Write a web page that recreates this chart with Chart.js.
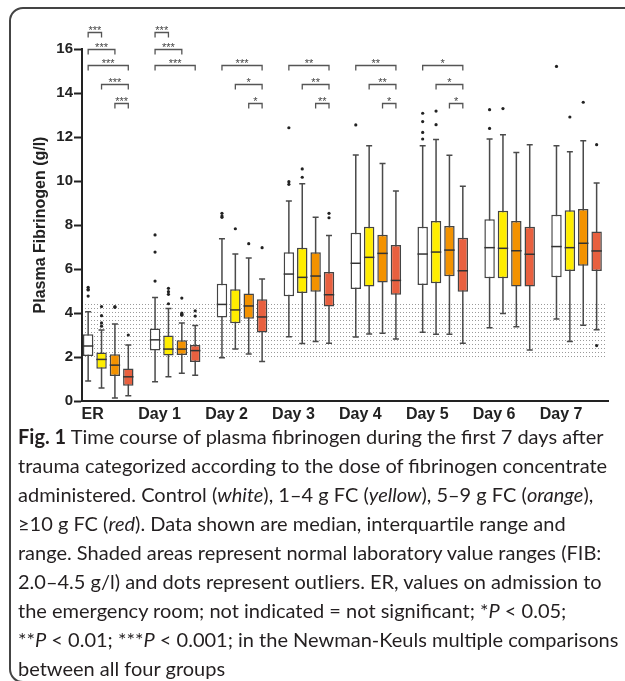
<!DOCTYPE html>
<html>
<head>
<meta charset="utf-8">
<script src="https://cdn.jsdelivr.net/npm/chart.js@4.4.1/dist/chart.umd.min.js"></script>
<style>
  html, body { margin: 0; padding: 0; background: #fff; overflow: hidden; }
  body { width: 625px; height: 681px; position: relative; }
  .frame { position: absolute; left: 9px; top: 7px; width: 660px; height: 676px; box-sizing: border-box;
           border: 2px solid #444; border-radius: 14px; }
  .plot { position: absolute; left: 0; top: 0; width: 625px; height: 430px; }
  .caption { position: absolute; left: 18px; top: 422px; font-family: Lato, "Noto Sans", sans-serif;
             font-size: 20px; line-height: 29px; color: #231f20; white-space: nowrap; }
  .caption div { display: block; }
</style>
</head>
<body>
<div class="frame"></div>
<div class="plot"><canvas id="chart"></canvas></div>
<div class="caption">
  <div><b>Fig. 1</b> Time course of plasma fibrinogen during the first 7 days after</div>
  <div>trauma categorized according to the dose of fibrinogen concentrate</div>
  <div>administered. Control (<i>white</i>), 1–4 g FC (<i>yellow</i>), 5–9 g FC (<i>orange</i>),</div>
  <div>≥10 g FC (<i>red</i>). Data shown are median, interquartile range and</div>
  <div>range. Shaded areas represent normal laboratory value ranges (FIB:</div>
  <div>2.0–4.5 g/l) and dots represent outliers. ER, values on admission to</div>
  <div>the emergency room; not indicated = not significant; *<i>P</i> &lt; 0.05;</div>
  <div>**<i>P</i> &lt; 0.01; ***<i>P</i> &lt; 0.001; in the Newman-Keuls multiple comparisons</div>
  <div>between all four groups</div>
</div>
<script>
const days = ["ER", "Day 1", "Day 2", "Day 3", "Day 4", "Day 5", "Day 6", "Day 7"];

// [min, q1, median, q3, max] for each day
const control = [
  [0.91, 2.05, 2.50, 3.03, 4.06],
  [0.88, 2.30, 2.78, 3.30, 4.71],
  [1.97, 3.80, 4.39, 5.33, 7.38],
  [2.92, 4.76, 5.77, 6.76, 9.09],
  [2.91, 5.09, 6.26, 7.65, 11.18],
  [3.12, 5.27, 6.68, 7.92, 11.60],
  [3.33, 5.58, 6.97, 8.26, 11.91],
  [3.73, 5.62, 7.02, 8.47, 11.60]
];
const fc1to4 = [
  [0.59, 1.47, 1.89, 2.20, 3.23],
  [1.10, 2.07, 2.36, 2.98, 4.20],
  [2.36, 3.53, 4.14, 5.08, 6.68],
  [2.61, 4.91, 5.62, 6.97, 9.88],
  [3.05, 5.21, 6.53, 7.92, 11.60],
  [3.03, 5.35, 6.77, 8.18, 11.89],
  [3.98, 5.58, 6.94, 8.65, 12.10],
  [2.71, 5.91, 6.97, 8.67, 11.33]
];
const fc5to9 = [
  [0.14, 1.14, 1.63, 2.13, 3.50],
  [1.26, 2.09, 2.36, 2.76, 3.55],
  [2.14, 3.74, 4.32, 4.89, 6.50],
  [2.70, 4.97, 5.68, 6.76, 8.35],
  [3.08, 5.39, 6.71, 7.56, 10.79],
  [3.03, 5.67, 6.86, 7.95, 11.17],
  [3.38, 5.20, 6.83, 8.18, 11.30],
  [3.44, 6.15, 7.17, 8.73, 11.83]
];
const fc10 = [
  [0.24, 0.69, 1.10, 1.48, 2.55],
  [1.17, 1.77, 2.29, 2.54, 3.43],
  [1.80, 3.11, 3.82, 4.62, 5.55],
  [2.62, 4.29, 4.83, 5.86, 7.52],
  [2.82, 4.83, 5.48, 7.09, 9.55],
  [2.62, 4.97, 5.92, 7.42, 9.76],
  [2.32, 5.20, 6.67, 7.92, 11.65],
  [3.24, 5.91, 6.82, 7.70, 9.91]
];

// outliers as [day index, value]
const controlOut = [[0, 5.17], [0, 5.07], [0, 5.05], [0, 4.77], [1, 7.55], [1, 6.77], [1, 5.45],
  [2, 8.35], [2, 8.41], [2, 8.53], [3, 12.42], [3, 9.85], [3, 9.97], [4, 12.55],
  [5, 13.08], [5, 12.70], [5, 12.21], [5, 11.91], [6, 13.24], [6, 12.39], [7, 15.21]];
const fc1to4Out = [[0, 4.29], [0, 3.88], [0, 3.55], [0, 3.40], [1, 5.12], [1, 4.97], [1, 4.85], [1, 4.42],
  [2, 7.83], [3, 10.55], [3, 10.17], [5, 13.18], [5, 12.56], [6, 13.29], [7, 12.91]];
const fc5to9Out = [[0, 4.26], [0, 4.29], [1, 4.68], [1, 4.00], [1, 3.95], [1, 3.90], [1, 3.93],
  [2, 7.15], [7, 13.58]];
const fc10Out = [[0, 3.00], [1, 4.10], [1, 3.86], [2, 6.97], [3, 8.53], [3, 8.33], [7, 11.65], [7, 2.52]];

const groupNames = ["Control", "1–4 g FC", "5–9 g FC", "≥10 g FC"];
const groupColors = ["#ffffff", "#ffed00", "#f39200", "#e8603f"];
const normalRange = [2.0, 4.5];

// significance brackets: [day, from group, to group, level, label]
const bracketLevels = [16.79, 16.0, 15.26, 14.39, 13.55];
const brackets = [
  [0, 0, 1, 0, "***"], [0, 0, 2, 1, "***"], [0, 0, 3, 2, "***"], [0, 1, 3, 3, "***"], [0, 2, 3, 4, "***"],
  [1, 0, 1, 0, "***"], [1, 0, 2, 1, "***"], [1, 0, 3, 2, "***"],
  [2, 0, 3, 2, "***"], [2, 1, 3, 3, "*"], [2, 2, 3, 4, "*"],
  [3, 0, 3, 2, "**"], [3, 1, 3, 3, "**"], [3, 2, 3, 4, "**"],
  [4, 0, 3, 2, "**"], [4, 1, 3, 3, "**"], [4, 2, 3, 4, "*"],
  [5, 0, 3, 2, "*"], [5, 1, 3, 3, "*"], [5, 2, 3, 4, "*"]
];

const boxes = [control, fc1to4, fc5to9, fc10];
const outliers = [controlOut, fc1to4Out, fc5to9Out, fc10Out];
const catPct = 0.8;

function dotPattern(ctx) {
  const c = document.createElement("canvas");
  c.width = 3; c.height = 4;
  const p = c.getContext("2d");
  p.fillStyle = "#9a9a9a";
  p.fillRect(1, 0, 1, 1);
  return ctx.createPattern(c, "repeat");
}

const boxPlugin = {
  id: "boxplot",
  beforeDatasetsDraw(chart) {
    const { ctx, chartArea, scales: { y } } = chart;
    ctx.save();
    // normal range shading
    const top = y.getPixelForValue(normalRange[1]);
    const bottom = y.getPixelForValue(normalRange[0]);
    ctx.fillStyle = dotPattern(ctx);
    ctx.fillRect(chartArea.left + 1, Math.round(top), chartArea.right - chartArea.left - 4, bottom - top);
    // whiskers
    ctx.strokeStyle = "#4a4a4a";
    ctx.lineWidth = 1.5;
    boxes.forEach((g, gi) => {
      const meta = chart.getDatasetMeta(gi);
      g.forEach((b, i) => {
        const cx = meta.data[i].x;
        ctx.beginPath();
        ctx.moveTo(cx, y.getPixelForValue(b[0]));
        ctx.lineTo(cx, y.getPixelForValue(b[4]));
        [b[0], b[4]].forEach(v => {
          ctx.moveTo(cx - 3, y.getPixelForValue(v));
          ctx.lineTo(cx + 3, y.getPixelForValue(v));
        });
        ctx.stroke();
      });
    });
    ctx.restore();
  },
  afterDatasetsDraw(chart) {
    const { ctx, scales: { y } } = chart;
    ctx.save();
    // medians
    ctx.strokeStyle = "#333";
    ctx.lineWidth = 1.5;
    boxes.forEach((g, gi) => {
      const meta = chart.getDatasetMeta(gi);
      g.forEach((b, i) => {
        const bar = meta.data[i];
        const py = y.getPixelForValue(b[2]);
        ctx.beginPath();
        ctx.moveTo(bar.x - bar.width / 2, py);
        ctx.lineTo(bar.x + bar.width / 2, py);
        ctx.stroke();
      });
    });
    // significance brackets
    ctx.strokeStyle = "#555";
    ctx.lineWidth = 1.3;
    ctx.fillStyle = "#444";
    ctx.font = "11px 'Liberation Sans', Arial, sans-serif";
    ctx.textAlign = "center";
    ctx.textBaseline = "alphabetic";
    brackets.forEach(([d, a, b, lvl, label]) => {
      const x1 = chart.getDatasetMeta(a).data[d].x;
      const x2 = chart.getDatasetMeta(b).data[d].x;
      const py = Math.round(y.getPixelForValue(bracketLevels[lvl])) + 0.5;
      ctx.beginPath();
      ctx.moveTo(x1, py + 5);
      ctx.lineTo(x1, py);
      ctx.lineTo(x2, py);
      ctx.lineTo(x2, py + 5);
      ctx.stroke();
      ctx.fillText(label, (x1 + x2) / 2, py + 1);
    });
    ctx.restore();
  }
};

const datasets = boxes.map((g, gi) => ({
  type: "bar",
  label: groupNames[gi],
  data: g.map((b, i) => ({ x: i, y: [b[1], b[3]] })),
  backgroundColor: groupColors[gi],
  borderColor: "#444",
  borderWidth: 1.5,
  borderSkipped: false,
  barPercentage: 0.78,
  categoryPercentage: catPct
})).concat(outliers.map((o, gi) => ({
  type: "scatter",
  label: groupNames[gi] + " outliers",
  data: o.map(([d, v]) => ({ x: d + (gi - 1.5) * catPct / 4, y: v })),
  pointRadius: 1.6,
  pointBackgroundColor: "#222",
  pointBorderWidth: 0
})));

new Chart(document.getElementById("chart"), {
  type: "bar",
  data: { datasets },
  plugins: [boxPlugin],
  options: {
    responsive: true,
    maintainAspectRatio: false,
    animation: false,
    events: [],
    layout: { padding: { left: 28, right: 17, top: 49, bottom: 3 } },
    plugins: { legend: { display: false }, tooltip: { enabled: false } },
    scales: {
      x: {
        type: "linear",
        min: -0.392,
        max: 7.47,
        offset: false,
        afterBuildTicks: axis => { axis.ticks = days.map((d, i) => ({ value: i })); },
        afterFit: axis => { axis.height = 26; },
        grid: { display: false, drawTicks: false, tickLength: 0 },
        border: { display: true, color: "#222", width: 2 },
        ticks: {
          callback: v => days[v],
          autoSkip: false,
          maxRotation: 0,
          labelOffset: -15.5,
          padding: 4,
          color: "#222",
          font: { family: "'Liberation Sans', Arial, sans-serif", size: 16, weight: "bold" }
        }
      },
      y: {
        min: 0,
        max: 16,
        afterFit: axis => { axis.width = 54; },
        grid: { drawOnChartArea: false, drawTicks: true, tickLength: 8, tickWidth: 2, tickColor: "#222" },
        border: { display: true, color: "#222", width: 2 },
        ticks: {
          stepSize: 2,
          padding: 1,
          color: "#222",
          font: { family: "'Liberation Sans', Arial, sans-serif", size: 15, weight: "bold" }
        },
        title: {
          display: true,
          text: "Plasma Fibrinogen (g/l)",
          color: "#222",
          padding: { top: 3, bottom: 4 },
          font: { family: "'Liberation Sans', Arial, sans-serif", size: 16, weight: "bold" }
        }
      }
    }
  }
});
</script>
</body>
</html>
